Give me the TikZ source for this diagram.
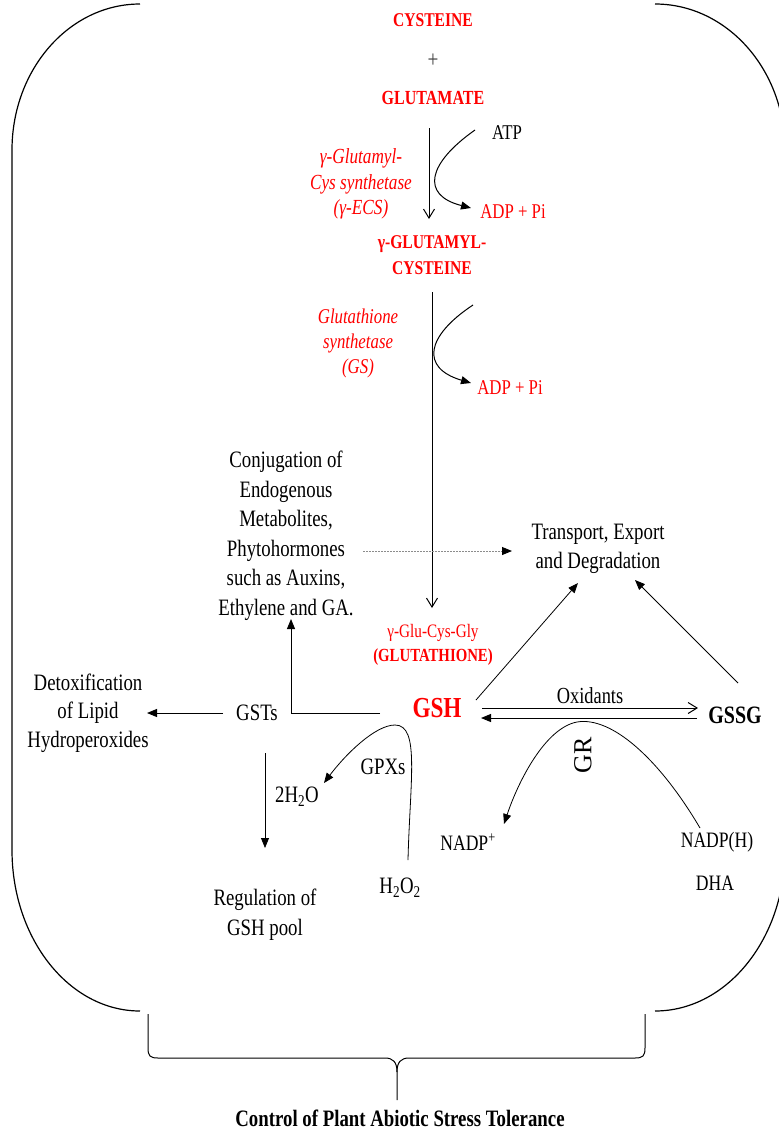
\documentclass[tikz,border=0pt]{standalone}
\usepackage{fontspec}
\setmainfont{Liberation Serif}
\usetikzlibrary{arrows.meta}
\newcommand\fs[2]{\fontsize{#1}{#2}\selectfont}
\begin{document}
\begin{tikzpicture}[x=1pt,y=-1pt,line width=1pt,
  lbl/.style={inner sep=0pt,align=center,xscale=0.8},
  barb/.style={-{Straight Barb[length=9pt,width=11pt]}},
  tri/.style={-{Triangle[length=10pt,width=8pt]}},
  chev/.style={-{Straight Barb[length=9pt,width=11pt]}},
  dotl/.style={draw=black!45,line width=0.9pt,dash pattern=on 1.5pt off 1.5pt,-{Triangle[length=10pt,width=8pt,color=black]}},
  enz/.style={lbl,text=red,font=\itshape\fs{21.5}{25.5}},
  met/.style={lbl,text=red,font=\bfseries\fs{19.5}{26}},
  txt/.style={lbl,font=\fs{23.5}{29.5}}]
\clip (0,0) rectangle (779,1133);
% outer frame
\draw[line width=1.2pt] (140,4) .. controls (69.3,4) and (12,69.4) .. (12,150) -- (12,850)
  .. controls (12,938.9) and (69.3,1011) .. (140,1011);
\draw[line width=1.2pt] (655,4) .. controls (726.8,4) and (785,69.4) .. (785,150) -- (785,850)
  .. controls (785,938.9) and (726.8,1011) .. (655,1011);
% brace
\draw (148,1014) -- (148,1048) .. controls (148,1056) and (150,1058) .. (158,1058) -- (385,1058)
  .. controls (393,1058) and (397,1062) .. (397,1072) -- (397,1100);
\draw (645,1014) -- (645,1048) .. controls (645,1056) and (643,1058) .. (635,1058) -- (409,1058)
  .. controls (401,1058) and (397,1062) .. (397,1072);
% nodes
\node[met,font=\bfseries\fs{19.5}{22}] (cys) at (433,20) {CYSTEINE};
\node[lbl,text=black!75,font=\fs{24}{28}] (plus) at (433,61) {+};
\node[met,font=\bfseries\fs{20}{22}] (glu) at (433,98) {GLUTAMATE};
\node[enz] (ecs) at (361,184) {γ-Glutamyl-\\Cys synthetase\\(γ-ECS)};
\node[lbl,font=\fs{21}{24}] (atp) at (507,133) {ATP};
\node[lbl,text=red,font=\fs{21}{24}] (adp1) at (513,212) {ADP + Pi};
\node[met] (gc) at (432,255) {γ-GLUTAMYL-\\CYSTEINE};
\node[enz,font=\itshape\fs{21}{25}] (gs) at (358,343) {Glutathione\\synthetase\\(GS)};
\node[lbl,text=red,font=\fs{21}{24}] (adp2) at (510,388) {ADP + Pi};
\node[txt] (conj) at (286,536) {Conjugation of\\Endogenous\\Metabolites,\\Phytohormones\\such as Auxins,\\Ethylene and GA.};
\node[txt,font=\fs{23.5}{28.5}] (trans) at (598,549) {Transport, Export\\and Degradation};
\node[lbl,text=red,font=\fs{19}{22}] (gcg) at (433,633) {γ-Glu-Cys-Gly};
\node[met,font=\bfseries\fs{18.5}{22}] (gtn) at (433,657) {(GLUTATHIONE)};
\node[lbl,text=red,font=\bfseries\fs{29}{32}] (gsh) at (437,708) {GSH};
\node[txt] (gsts) at (257,713) {GSTs};
\node[txt,font=\fs{23.5}{28.5}] (detox) at (88,713) {Detoxification\\of Lipid\\Hydroperoxides};
\node[txt,font=\fs{23.5}{30}] (reg) at (265,915) {Regulation of\\GSH pool};
\node[txt] (h2o) at (297,797) {2H\textsubscript{2}O};
\node[txt] (gpx) at (383,767) {GPXs};
\node[txt] (h2o2) at (400,888) {H\textsubscript{2}O\textsubscript{2}};
\node[txt,font=\fs{23}{28}] (ox) at (590,696) {Oxidants};
\node[lbl,font=\bfseries\fs{25}{28}] (gssg) at (735,715) {GSSG};
\node[inner sep=0pt,rotate=90,font=\fs{26}{28}] (gr) at (583,755) {GR};
\node[txt,font=\fs{22}{26}] (nadp) at (468,842) {NADP\textsuperscript{+}};
\node[txt,font=\fs{22}{26}] (nadph) at (717,842) {NADP(H)};
\node[txt,font=\fs{22}{26}] (dha) at (715,883) {DHA};
\node[lbl,font=\bfseries\fs{23.5}{28}] (ctrl) at (400,1118) {Control of Plant Abiotic Stress Tolerance};
% connector endpoints
\coordinate (a1s) at (429,128); \coordinate (a1e) at (429,219);
\coordinate (c1s) at (475,130); \coordinate (c1e) at (471,208);
\coordinate (a2s) at (432,292); \coordinate (a2e) at (432,608);
\coordinate (c2s) at (473,305); \coordinate (c2e) at (471,383);
\coordinate (ds) at (363,551); \coordinate (de) at (512,551);
\coordinate (t1s) at (476,700); \coordinate (t1e) at (578,583);
\coordinate (t2s) at (738,683); \coordinate (t2e) at (635,580);
\coordinate (g1s) at (380,713); \coordinate (g1c) at (291,713); \coordinate (g1e) at (291,619);
\coordinate (g2s) at (223,713); \coordinate (g2e) at (147,713);
\coordinate (g3s) at (265,753); \coordinate (g3e) at (265,848);
\coordinate (px1) at (408,860); \coordinate (px2) at (395,725); \coordinate (px3) at (324,783);
\coordinate (o1s) at (482,708); \coordinate (o1e) at (698,708);
\coordinate (o2s) at (697,718); \coordinate (o2e) at (481,718);
\coordinate (r1) at (700,828); \coordinate (r2) at (577,722); \coordinate (r3) at (504,824);
% connectors
\draw[barb] (a1s) -- (a1e);
\draw[tri] (c1s) .. controls (428,163) and (420,195) .. (c1e);
\draw[barb] (a2s) -- (a2e);
\draw[tri] (c2s) .. controls (426,336) and (420,368) .. (c2e);
\draw[dotl] (ds) -- (de);
\draw[tri,line width=0.8pt] (t1s) -- (t1e);
\draw[tri,line width=0.8pt] (t2s) -- (t2e);
\draw[tri] (g1s) -- (g1c) -- (g1e);
\draw[tri] (g2s) -- (g2e);
\draw[tri,line width=0.8pt] (g3s) -- (g3e);
\draw[tri,line width=0.8pt] (px1) .. controls (410,780) and (420,725) .. (px2) .. controls (375,725) and (345,755) .. (px3);
\draw[chev] (o1s) -- (o1e);
\draw[tri] (o2s) -- (o2e);
\draw[tri,line width=0.8pt] (r1) .. controls (660,760) and (612,716) .. (r2) .. controls (545,728) and (518,782) .. (r3);
\end{tikzpicture}
\end{document}
